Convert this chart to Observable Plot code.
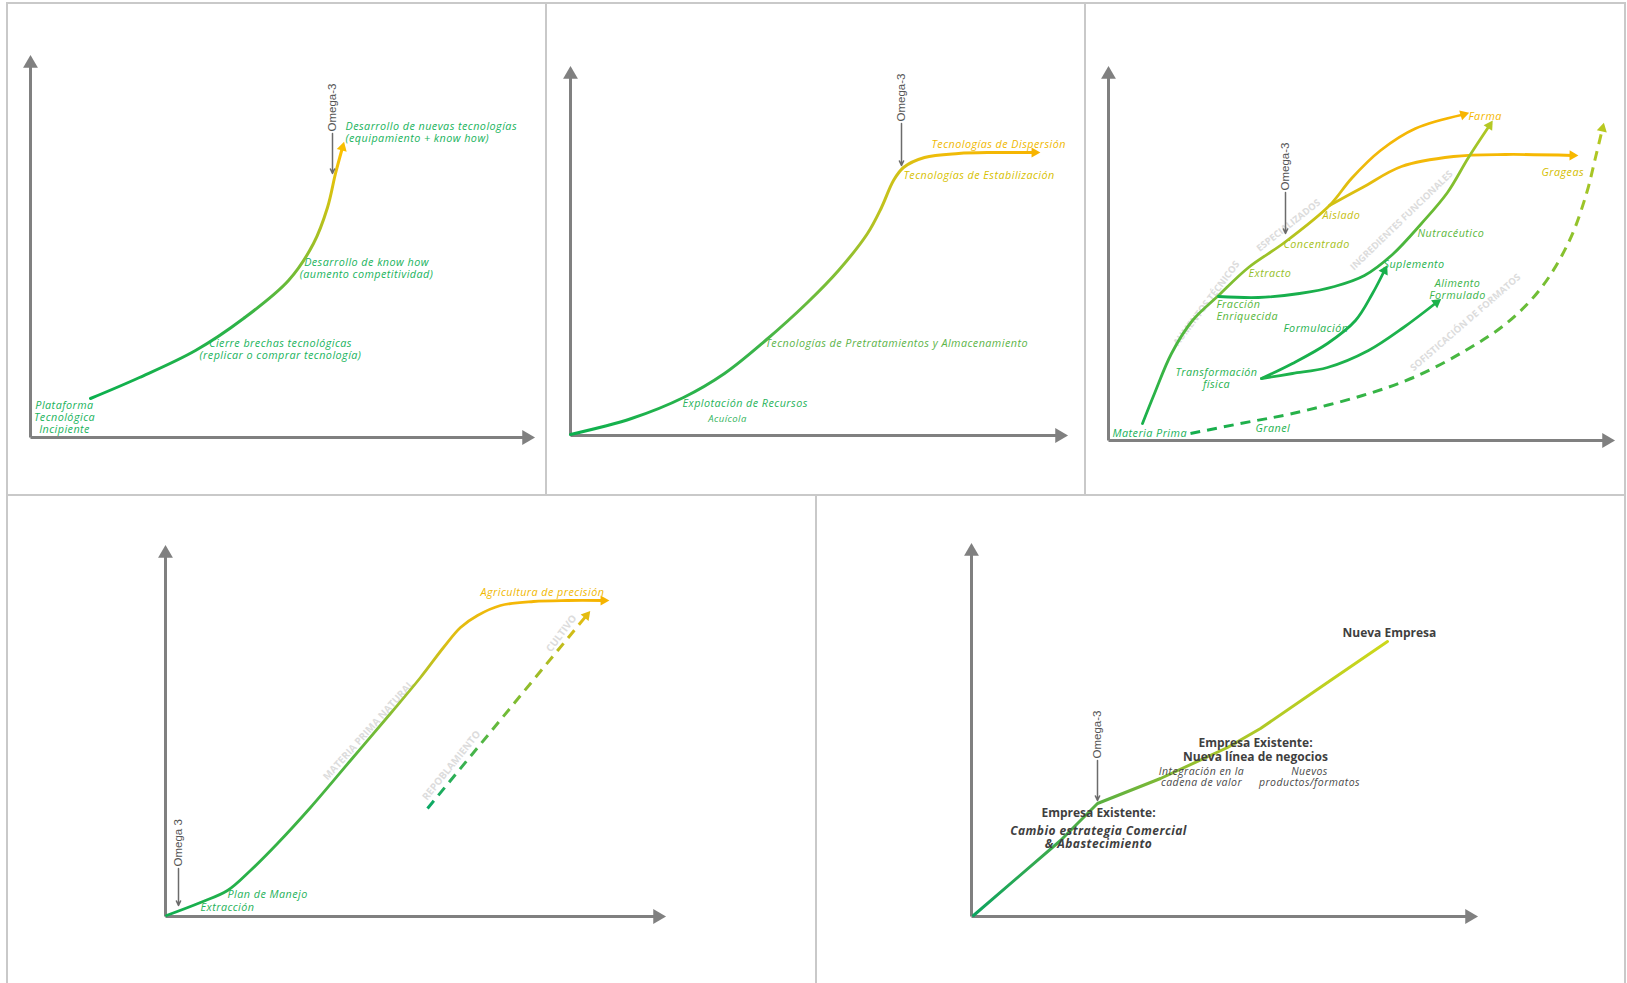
<!DOCTYPE html>
<html><head><meta charset="utf-8">
<script src="https://cdn.jsdelivr.net/npm/d3@7"></script>
<script src="https://cdn.jsdelivr.net/npm/@observablehq/plot@0.6"></script>
<style>
body{margin:0;background:#fff;}
#page{position:relative;width:1627px;height:983px;overflow:hidden;background:#fff;}
.frame{position:absolute;border:2px solid #c9c9c9;box-sizing:border-box;}
</style></head><body><div id="page"></div>
<script>
// ---------------- DATA (units = distance from each panel's axis origin) ----------------
// Panel 1
const p1CurveX = [60,109,165,213,258,283,297,305,312];
const p1CurveY = [39,60,87,119,157,194,230,264,290];
const p1Omega = {x: 302, yTop: 304, yBottom: 264, label: "Omega-3"};
const p1LabelsStart = [{text:"Desarrollo de nuevas tecnologías\n(equipamiento + know how)", x:315, y:305.5, c:"#19b35c"}];
const p1LabelsMiddle = [
  {text:"Desarrollo de know how\n(aumento competitividad)", x:336, y:169.5, c:"#19b35c"},
  {text:"Cierre brechas tecnológicas\n(replicar o comprar tecnología)", x:250, y:88.5, c:"#19b35c"},
  {text:"Plataforma\nTecnológica\nIncipiente", x:34, y:20, c:"#19b35c"}
];
// Panel 2
const p2CurveX = [0,61,113,154,195,237,268,297,311,323,333,354,388,423,464];
const p2CurveY = [1,17,38,62,95,133,165,202,228,255,268,278,282,283,283];
const p2Omega = {x: 331, yTop: 312, yBottom: 270, label: "Omega-3"};
const p2LabelsStart = [
  {text:"Tecnologías de Dispersión", x:361, y:291, c:"#f0b800"},
  {text:"Tecnologías de Estabilización", x:333, y:260, c:"#d7bf00"},
  {text:"Tecnologías de Pretratamientos y Almacenamiento", x:195, y:92, c:"#5cb448"},
  {text:"Explotación de Recursos", x:112, y:32, c:"#27b35a"}
];
const p2LabelsSmall = [{text:"Acuícola", x:157, y:17, c:"#2fb35a"}];
// Panel 3
const p3TrunkX = [34,46,63,84,110,140,176,221,243,272,307,355];
const p3TrunkY = [17,47,87,120,145,173,198,235,262,290,312,326];
const p3GrageasX = [221,254,293,345,397,464];
const p3GrageasY = [235,253,274,284,286,285];
const p3NutraX = [110,150,191,226,256,284,313,339,360,381];
const p3NutraY = [144,143,147,154,165,186,217,248,283,315];
const p3SupleX = [153,184,219,247,264,276];
const p3SupleY = [62,77,97,120,147,170];
const p3AlimX = [153,184,219,260,295,328];
const p3AlimY = [62,67,73,90,113,138];
const p3DashX = [82,132,184,254,305,357,399,433,461,478,487,494];
const p3DashY = [7,17,27,45,63,90,118,153,200,247,283,312];
const p3Omega = {x: 177, yTop: 248, yBottom: 207, label: "Omega-3"};
const p3LabelsStart = [
  {text:"Materia Prima", x:4, y:7, c:"#19b15a"},
  {text:"Granel", x:147, y:12, c:"#1fb24f"},
  {text:"Formulación", x:175, y:112, c:"#27b24f"},
  {text:"Fracción\nEnriquecida", x:108, y:130.5, c:"#58b73c"},
  {text:"Extracto", x:140, y:167, c:"#96bf2a"},
  {text:"Concentrado", x:175, y:196, c:"#a6bf20"},
  {text:"Aislado", x:214, y:225, c:"#c6c012"},
  {text:"Nutracéutico", x:309, y:207, c:"#5cb73c"},
  {text:"Suplemento", x:275, y:176, c:"#1fb24f"},
  {text:"Farma", x:360, y:324, c:"#f5b800"},
  {text:"Grageas", x:433, y:268, c:"#d4be00"}
];
const p3LabelsMiddle = [
  {text:"Transformación\nfísica", x:108, y:62.5, c:"#27b24f"},
  {text:"Alimento\nFormulado", x:349, y:151.5, c:"#3cb44a"}
];
const p3Watermarks = [
  {text:"AUMENTOS TÉCNICOS", x:98, y:137, angle:-53},
  {text:"ESPECIALIZADOS", x:180, y:215, angle:-38},
  {text:"INGREDIENTES FUNCIONALES", x:293, y:220, angle:-44},
  {text:"SOFISTICACIÓN DE FORMATOS", x:357, y:118, angle:-41}
];
// Panel 4
const p4CurveX = [1,35,62,85,112,145,185,225,255,278,295,312,335,368,402,438];
const p4CurveY = [1,14,26,46,73,109,156,203,239,269,289,301,311,315,316,316];
const p4DashX = [262,421];
const p4DashY = [108,301];
const p4Omega = {x: 13, yTop: 48, yBottom: 11, label: "Omega 3"};
const p4LabelsStart = [
  {text:"Plan de Manejo", x:62, y:22, c:"#1fb25a"},
  {text:"Extracción", x:35, y:9, c:"#1fb25a"},
  {text:"Agricultura de precisión", x:315, y:324, c:"#f0b800"}
];
const p4Watermarks = [
  {text:"MATERIA PRIMA NATURAL", x:203, y:186, angle:-48},
  {text:"REPOBLAMIENTO", x:286, y:151, angle:-51},
  {text:"CULTIVO", x:396, y:283, angle:-53}
];
// Panel 5
const p5LineX = [2,89,126,189,256,289,356,416];
const p5LineY = [1,76,113,138,169,188,234,275];
const p5Omega = {x: 126, yTop: 156, yBottom: 116, label: "Omega-3"};
const p5Bold = [
  {text:"Nueva Empresa", x:371, y:283, anchor:"start"},
  {text:"Empresa Existente:\nNueva línea de negocios", x:284, y:167},
  {text:"Empresa Existente:", x:127, y:104}
];
const p5BoldItalic = [{text:"Cambio estrategia Comercial\n& Abastecimiento", x:127, y:79.5}];
const p5Italic = [
  {text:"Integración en la\ncadena de valor", x:230, y:139.5},
  {text:"Nuevos\nproductos/formatos", x:338, y:139.5}
];

// ---------------- LAYOUT & STYLE ----------------
const FONT = "'Open Sans', Lato, sans-serif";
const AXIS = "#808080";
const layout = {
  p1: {left:7, top:3, width:539, height:491, ox:30, oy:437, tx:532, ty:57},
  p2: {left:546, top:3, width:539, height:491, ox:570, oy:435, tx:1065, ty:68},
  p3: {left:1085, top:3, width:539, height:491, ox:1108, oy:440, tx:1612, ty:68},
  p4: {left:7, top:494, width:808, height:489, ox:165, oy:916, tx:663, ty:547},
  p5: {left:815, top:494, width:809, height:489, ox:971, oy:916, tx:1475, ty:545}
};
const frames = [
  {left:6, top:2, width:541, height:494},
  {left:545, top:2, width:541, height:494},
  {left:1084, top:2, width:542, height:494},
  {left:6, top:494, width:811, height:492},
  {left:815, top:494, width:811, height:492}
];
const page = document.getElementById("page");
for (const f of frames) {
  const d = document.createElement("div");
  d.className = "frame";
  Object.assign(d.style, {left:f.left+"px", top:f.top+"px", width:f.width+"px", height:f.height+"px"});
  page.append(d);
}

const pts = (xs, ys) => xs.map((x, i) => ({x, y: ys[i]}));
function head(xs, ys) {
  const n = xs.length, dx = xs[n-1]-xs[n-2], dy = ys[n-1]-ys[n-2];
  return [{x: xs[n-1], y: ys[n-1], rotate: Math.atan2(dx, dy) * 180 / Math.PI}];
}
function gradientDefs(grads) {
  return (index, scales) => {
    const defs = d3.create("svg:defs");
    for (const g of grads) {
      const lg = defs.append("linearGradient").attr("id", g.id).attr("gradientUnits", "userSpaceOnUse")
        .attr("x1", scales.x(g.from[0])).attr("y1", scales.y(g.from[1]))
        .attr("x2", scales.x(g.to[0])).attr("y2", scales.y(g.to[1]));
      for (const [o, c] of g.stops) lg.append("stop").attr("offset", o).attr("stop-color", c);
    }
    return defs.node();
  };
}
function curve(xs, ys, stroke, opts = {}) {
  return Plot.line(pts(xs, ys), {x:"x", y:"y", curve: opts.curve || "catmull-rom", stroke, strokeWidth: opts.width || 2.8,
    strokeLinecap: opts.dash ? "butt" : "round", strokeDasharray: opts.dash});
}
function arrowHead(xs, ys, fill, r = 3.8) {
  return Plot.dot(head(xs, ys), {x:"x", y:"y", rotate:"rotate", symbol:"triangle", r, fill, stroke:null});
}
function omega(o) {
  return [
    Plot.arrow([o], {x1:"x", x2:"x", y1:"yTop", y2:"yBottom", stroke:"#6b6b6b", strokeWidth:1.5, headLength:5, headAngle:50}),
    Plot.text([o], {x:"x", y:"yTop", text:"label", rotate:-90, textAnchor:"start", dx:0, dy:-2, fontSize:11.5,
      fill:"#555", fontFamily:"'Liberation Sans', Arial, sans-serif"})
  ];
}
function labels(arr, anchor, extra = {}) {
  return Plot.text(arr, {x:"x", y:"y", text:"text", fill:"c", textAnchor:anchor, fontSize:10.8, fontStyle:"italic",
    lineHeight:1.1, fontFamily:FONT, ...extra});
}
function watermarks(arr, size = 9.5) {
  return Plot.text(arr, {x:"x", y:"y", text:"text", rotate:"angle", fill:"#dcdcdc", fontSize:size,
    fontWeight:"bold", fontFamily:FONT});
}
function panel(L, marks) {
  const xLen = L.tx - L.ox, yLen = L.oy - L.ty;
  const axes = [
    Plot.link([{x1:0, y1:0, x2:xLen-7, y2:0}, {x1:0, y1:0, x2:0, y2:yLen-7}],
      {x1:"x1", y1:"y1", x2:"x2", y2:"y2", stroke:AXIS, strokeWidth:3}),
    Plot.dot([{x:xLen-6, y:0, r:90}, {x:0, y:yLen-6, r:0}],
      {x:"x", y:"y", rotate:"r", symbol:"triangle", r:5.5, fill:AXIS, stroke:null})
  ];
  const chart = Plot.plot({
    width: L.width, height: L.height,
    marginLeft: L.ox - L.left, marginRight: L.left + L.width - L.tx,
    marginTop: L.ty - L.top, marginBottom: L.top + L.height - L.oy,
    x: {domain:[0, xLen], axis:null},
    y: {domain:[0, yLen], axis:null},
    style: {background:"transparent", overflow:"visible", fontFamily:FONT},
    marks: [...axes, ...marks]
  });
  chart.style.position = "absolute";
  chart.style.left = L.left + "px";
  chart.style.top = L.top + "px";
  chart.style.maxWidth = "none";
  // wider tracking for the italic annotations (the original typeface is broad)
  chart.querySelectorAll('g[font-style="italic"]').forEach(g => g.setAttribute("letter-spacing", "0.45"));
  page.append(chart);
}

// Panel 1
panel(layout.p1, [
  gradientDefs([{id:"g1", from:[p1CurveX[0], p1CurveY[0]], to:[p1CurveX.at(-1), p1CurveY.at(-1)],
    stops:[[0,"#0bb04e"],[0.45,"#2db348"],[0.68,"#7fbd32"],[0.86,"#c9c216"],[1,"#ffc000"]]}]),
  curve(p1CurveX, p1CurveY, "url(#g1)", {width:3}),
  arrowHead(p1CurveX, p1CurveY, "#f8bf00"),
  ...omega(p1Omega),
  labels(p1LabelsStart, "start"),
  labels(p1LabelsMiddle, "middle")
]);

// Panel 2
panel(layout.p2, [
  gradientDefs([{id:"g2", from:[0, 0], to:[p2CurveX.at(-1), 0],
    stops:[[0,"#0bb04e"],[0.4,"#3ab44a"],[0.58,"#86c034"],[0.68,"#c6c21c"],[0.78,"#eebd0a"],[1,"#f7b400"]]}]),
  curve(p2CurveX, p2CurveY, "url(#g2)", {width:3}),
  arrowHead(p2CurveX, p2CurveY, "#f7b400"),
  ...omega(p2Omega),
  labels(p2LabelsStart, "start"),
  labels(p2LabelsSmall, "middle", {fontSize:9.5})
]);

// Panel 3
panel(layout.p3, [
  gradientDefs([
    {id:"g3t", from:[p3TrunkX[0], p3TrunkY[0]], to:[p3TrunkX.at(-1), p3TrunkY.at(-1)],
      stops:[[0,"#18b04c"],[0.3,"#6cbb38"],[0.5,"#a8c424"],[0.63,"#d2c212"],[0.78,"#f2b80a"],[1,"#f7b500"]]},
    {id:"g3g", from:[p3GrageasX[0], p3GrageasY[0]], to:[p3GrageasX.at(-1), p3GrageasY.at(-1)],
      stops:[[0,"#cfc114"],[0.3,"#f2b90a"],[1,"#f7b800"]]},
    {id:"g3n", from:[p3NutraX[0], p3NutraY[0]], to:[p3NutraX.at(-1), p3NutraY.at(-1)],
      stops:[[0,"#10ae4e"],[0.4,"#20b04a"],[0.7,"#68ba34"],[1,"#b4c824"]]},
    {id:"g3d", from:[p3DashX[0], p3DashY[0]], to:[p3DashX.at(-1), p3DashY.at(-1)],
      stops:[[0,"#14ae4e"],[0.55,"#4cb840"],[1,"#b8c820"]]}
  ]),
  watermarks(p3Watermarks),
  curve(p3DashX, p3DashY, "url(#g3d)", {width:3, dash:"10,7"}),
  arrowHead(p3DashX, p3DashY, "#b8c820"),
  curve(p3TrunkX, p3TrunkY, "url(#g3t)"),
  arrowHead(p3TrunkX, p3TrunkY, "#f7b500"),
  curve(p3GrageasX, p3GrageasY, "url(#g3g)"),
  arrowHead(p3GrageasX, p3GrageasY, "#f7b800"),
  curve(p3NutraX, p3NutraY, "url(#g3n)"),
  arrowHead(p3NutraX, p3NutraY, "#b4c824"),
  curve(p3SupleX, p3SupleY, "#18b04c"),
  arrowHead(p3SupleX, p3SupleY, "#18b04c"),
  curve(p3AlimX, p3AlimY, "#1db24c"),
  arrowHead(p3AlimX, p3AlimY, "#1db24c"),
  ...omega(p3Omega),
  labels(p3LabelsStart, "start"),
  labels(p3LabelsMiddle, "middle")
]);

// Panel 4
panel(layout.p4, [
  gradientDefs([
    {id:"g4", from:[0, 0], to:[p4CurveX.at(-1), p4CurveY.at(-1)],
      stops:[[0,"#10ae50"],[0.45,"#54b63e"],[0.62,"#a6c22a"],[0.72,"#dcbe14"],[0.85,"#f4b808"],[1,"#f6b400"]]},
    {id:"g4d", from:[p4DashX[0], p4DashY[0]], to:[p4DashX[1], p4DashY[1]],
      stops:[[0,"#0aa866"],[0.5,"#72bc36"],[1,"#e4bc10"]]}
  ]),
  watermarks(p4Watermarks, 10),
  curve(p4CurveX, p4CurveY, "url(#g4)"),
  arrowHead(p4CurveX, p4CurveY, "#f6b400"),
  curve(p4DashX, p4DashY, "url(#g4d)", {width:3, dash:"10,7", curve:"linear"}),
  arrowHead(p4DashX, p4DashY, "#e4bc10"),
  ...omega(p4Omega),
  labels(p4LabelsStart, "start")
]);

// Panel 5
panel(layout.p5, [
  gradientDefs([{id:"g5", from:[0, 0], to:[p5LineX.at(-1), p5LineY.at(-1)],
    stops:[[0,"#0ca460"],[0.35,"#5cb040"],[0.6,"#a6c42a"],[1,"#cdd81a"]]}]),
  curve(p5LineX, p5LineY, "url(#g5)", {curve:"linear", width:3}),
  ...omega(p5Omega),
  Plot.text(p5Bold.filter(d => d.anchor), {x:"x", y:"y", text:"text", textAnchor:"start", fontSize:12, fontWeight:"bold", fill:"#3f3f3f", fontFamily:FONT}),
  Plot.text(p5Bold.filter(d => !d.anchor), {x:"x", y:"y", text:"text", textAnchor:"middle", fontSize:12, fontWeight:"bold", lineHeight:1.15, fill:"#3f3f3f", fontFamily:FONT}),
  Plot.text(p5BoldItalic, {x:"x", y:"y", text:"text", textAnchor:"middle", fontSize:12, fontWeight:"bold", fontStyle:"italic", lineHeight:1.1, fill:"#3f3f3f", fontFamily:FONT}),
  Plot.text(p5Italic, {x:"x", y:"y", text:"text", textAnchor:"middle", fontSize:10.5, fontStyle:"italic", lineHeight:1.05, fill:"#4a4a4a", fontFamily:FONT})
]);
</script>
</body></html>
